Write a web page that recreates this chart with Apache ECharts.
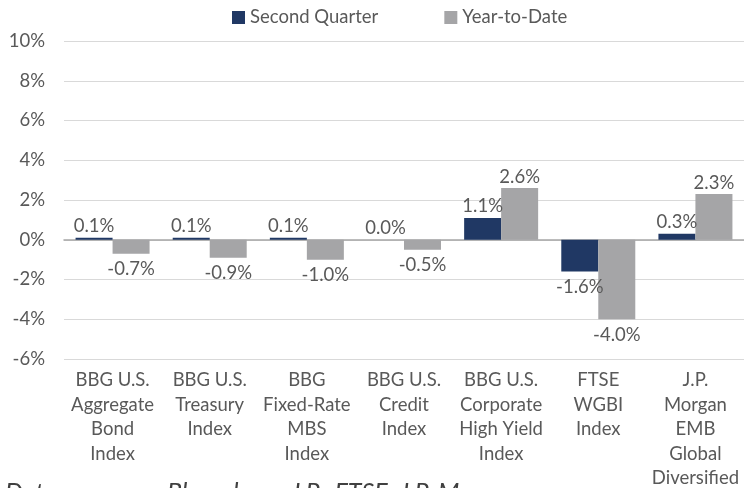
<!DOCTYPE html>
<html>
<head>
<meta charset="utf-8">
<script src="https://cdn.jsdelivr.net/npm/echarts@6/dist/echarts.min.js"></script>
<style>
    html, body { margin: 0; padding: 0; background: #fff; }
    #main { width: 744px; height: 488px; }
</style>
</head>
<body>
<div id="main"></div>
<script type="text/javascript">
    // 数据
    var categories = [
        'BBG U.S.\nAggregate\nBond\nIndex',
        'BBG U.S.\nTreasury\nIndex',
        'BBG\nFixed-Rate\nMBS\nIndex',
        'BBG U.S.\nCredit\nIndex',
        'BBG U.S.\nCorporate\nHigh Yield\nIndex',
        'FTSE\nWGBI\nIndex',
        'J.P.\nMorgan\nEMB\nGlobal\nDiversified'
    ];
    var secondQuarter = [0.1, 0.1, 0.1, 0.0, 1.1, -1.6, 0.3];
    var yearToDate = [-0.7, -0.9, -1.0, -0.5, 2.6, -4.0, 2.3];
    var yTicks = { min: -6, max: 10, interval: 2 };
    var noteLabel = 'Data sources:';
    var noteText = 'Bloomberg, J.P., FTSE, J.P. Morgan';

    var FONT = 'Lato';
    var TXT = '#595959';
    var FS = 18.5;

    // 正值标签在上，负值标签在下
    function toItems(arr) {
        return arr.map(function (v) {
            return {
                value: v,
                label: v < 0 ? { position: 'bottom', distance: 6 } : { position: 'top', distance: 2 }
            };
        });
    }

    var myChart = echarts.init(document.getElementById('main'));
    myChart.setOption({
        animation: false,
        textStyle: { fontFamily: FONT },
        legend: {
            left: 227,
            top: 3,
            itemWidth: 13,
            itemHeight: 13,
            itemGap: 66,
            icon: 'rect',
            textStyle: { fontFamily: FONT, fontSize: FS, color: TXT },
            data: ['Second Quarter', 'Year-to-Date']
        },
        grid: {
            left: 64,
            right: 0,
            top: 41,
            bottom: 129,
            containLabel: false,
            outerBoundsMode: 'none'
        },
        xAxis: {
            type: 'category',
            data: categories,
            axisTick: { show: false },
            axisLine: { onZero: true, lineStyle: { color: '#a6a6a6', width: 1.5 } },
            axisLabel: {
                interval: 0,
                margin: 9,
                color: TXT,
                fontFamily: FONT,
                fontSize: FS,
                lineHeight: 24.5,
                verticalAlign: 'top'
            }
        },
        yAxis: {
            type: 'value',
            min: yTicks.min,
            max: yTicks.max,
            interval: yTicks.interval,
            axisLine: { show: false },
            axisTick: { show: false },
            axisLabel: {
                formatter: '{value}%',
                margin: 19,
                color: TXT,
                fontFamily: FONT,
                fontSize: FS
            },
            splitLine: { lineStyle: { color: '#d9d9d9', width: 1 } }
        },
        series: [{
            name: 'Second Quarter',
            type: 'bar',
            data: toItems(secondQuarter),
            barWidth: 37,
            barGap: '0%',
            itemStyle: { color: '#203864' },
            label: {
                show: true,
                color: TXT,
                fontFamily: FONT,
                fontSize: FS,
                formatter: function (p) { return p.value.toFixed(1) + '%'; }
            }
        }, {
            name: 'Year-to-Date',
            type: 'bar',
            data: toItems(yearToDate),
            barWidth: 37,
            barGap: '0%',
            itemStyle: { color: '#a5a5a7' },
            label: {
                show: true,
                color: TXT,
                fontFamily: FONT,
                fontSize: FS,
                formatter: function (p) { return p.value.toFixed(1) + '%'; }
            }
        }],
        graphic: [{
            type: 'text',
            left: 5,
            top: 480,
            style: { text: noteLabel, fill: '#404040', font: 'italic 25px ' + FONT }
        }, {
            type: 'text',
            left: 167,
            top: 480,
            style: { text: noteText, fill: '#404040', font: 'italic 25px ' + FONT }
        }]
    });
</script>
</body>
</html>
